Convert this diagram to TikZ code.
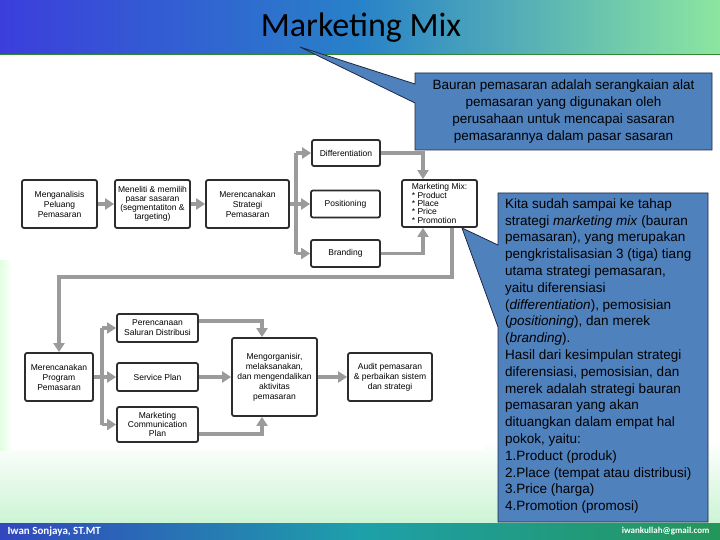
\documentclass[tikz,border=0pt]{standalone}
\usepackage{fontspec}
\setmainfont{Liberation Sans}
\newfontfamily\slidefont{Carlito}
\usetikzlibrary{arrows.meta,positioning,calc,shadows}
\definecolor{calloutblue}{RGB}{79,129,189}
\definecolor{calloutedge}{RGB}{30,40,70}
\definecolor{arrowgray}{RGB}{155,155,155}
\definecolor{boxborder}{RGB}{45,45,45}
\definecolor{bandblue}{RGB}{60,62,220}
\definecolor{bandmid}{RGB}{40,130,200}
\definecolor{bandgreen}{RGB}{140,230,160}
\definecolor{footblue}{RGB}{50,70,190}
\definecolor{footteal}{RGB}{30,160,170}
\definecolor{footgreen}{RGB}{35,150,90}

\tikzset{
  stagebox/.style={draw=boxborder, line width=1.8pt, rounded corners=2pt, fill=white,
    align=center, inner sep=1pt, font=\fontsize{8.5}{10}\selectfont,
    drop shadow={opacity=0.3, shadow xshift=0.8pt, shadow yshift=-0.8pt}},
  flow/.style={draw=arrowgray, line width=3.5pt, -{Triangle[width=11pt,length=9pt]}},
  flowline/.style={draw=arrowgray, line width=3.5pt},
  notetext/.style={text=black, inner sep=0pt, font=\fontsize{13.5}{16.8}\selectfont},
}

\begin{document}
\begin{tikzpicture}[x=1pt,y=-1pt]
    \useasboundingbox (0,0) rectangle (720,540);

    % Slide background
    \fill[white] (0,0) rectangle (720,540);
    \shade[top color=white, bottom color=bandgreen!45] (0,440) rectangle (720,523);
    \shade[left color=green!12, right color=white] (0,260) rectangle (12,450);
    \fill[white] (12,120) rectangle (484,450);

    % Header band and title
    \shade[left color=bandblue, right color=bandgreen, middle color=bandmid] (0,0) rectangle (720,55);
    \draw[black!45!green!60!gray, line width=1pt] (0,55) -- (720,55);
    \node (title) at (361,28) {\slidefont\fontsize{34}{38}\selectfont Marketing Mix};

    % Footer band
    \shade[left color=footblue, right color=footgreen, middle color=footteal] (0,523) rectangle (720,540);
    \node[anchor=west, text=white, font=\slidefont\bfseries\fontsize{11}{12}\selectfont] (author) at (4,531.5) {Iwan Sonjaya, ST.MT};
    \node[anchor=east, text=white, font=\slidefont\bfseries\fontsize{9}{10}\selectfont] (mail) at (713,531.5) {iwankullah@gmail.com};

    % Top row
    \node[stagebox, minimum width=75, minimum height=48] (analisis) at (59.5,204) {Menganalisis\\Peluang\\Pemasaran};
    \node[stagebox, minimum width=75, minimum height=48, font=\fontsize{8.5}{9.2}\selectfont] (segmen) at (152.5,204) {Meneliti \& memilih\\pasar sasaran\\(segmentatiton \&\\targeting)};
    \node[stagebox, minimum width=83, minimum height=48] (strategi) at (247.5,204) {Merencanakan\\Strategi\\Pemasaran};
    \node[stagebox, minimum width=68, minimum height=26] (diff) at (346,153) {Differentiation};
    \node[stagebox, minimum width=69, minimum height=27] (posi) at (345.5,204) {Positioning};
    \node[stagebox, minimum width=69, minimum height=27] (brand) at (345.5,253.5) {Branding};
    \node[stagebox, minimum width=75, minimum height=47, align=left, font=\fontsize{8.5}{8.3}\selectfont] (mix) at (439.5,203.5) {Marketing Mix:\\* Product\\* Place\\* Price\\* Promotion};

    % Bottom row
    \node[stagebox, minimum width=68, minimum height=48] (program) at (59,377) {Merencanakan\\Program\\Pemasaran};
    \node[stagebox, minimum width=81, minimum height=28] (saluran) at (157.5,328) {Perencanaan\\Saluran Distribusi};
    \node[stagebox, minimum width=81, minimum height=28] (service) at (157.5,377) {Service Plan};
    \node[stagebox, minimum width=81, minimum height=35, font=\fontsize{8.5}{9.3}\selectfont] (komunikasi) at (157.5,424.5) {Marketing\\Communication\\Plan};
    \node[stagebox, minimum width=85, minimum height=78] (organisir) at (274.5,377) {Mengorganisir,\\melaksanakan,\\dan mengendalikan\\aktivitas\\pemasaran};
    \node[stagebox, minimum width=84, minimum height=48] (audit) at (390,377) {Audit pemasaran\\\& perbaikan sistem\\dan strategi};

    % Connectors, top row
    \draw[flow] (analisis) -- (segmen);
    \draw[flow] (segmen) -- (strategi);
    \coordinate (split1) at ($(strategi.east)+(6,0)$);
    \draw[flowline] (strategi.east) -- (split1);
    \draw[flowline] (split1 |- diff.west) -- (split1 |- brand.west);
    \draw[flow] (split1 |- diff.west) -- (diff.west);
    \draw[flow] (split1) -- (posi.west);
    \draw[flow] (split1 |- brand.west) -- (brand.west);
    \draw[flow] (diff.east) -| ([xshift=-16.5pt]mix.north);
    \draw[flow] (brand.east) -| ([xshift=-16.5pt]mix.south);

    % Loop back to the bottom row
    \draw[flow] ([xshift=12.5pt]mix.south) |- ($(program.north)+(0,-75)$) -- (program.north);

    % Connectors, bottom row
    \coordinate (split2) at ($(program.east)+(8,0)$);
    \draw[flowline] (program.east) -- (split2);
    \draw[flowline] (split2 |- saluran.west) -- (split2 |- komunikasi.west);
    \draw[flow] (split2 |- saluran.west) -- (saluran.west);
    \draw[flow] (split2) -- (service.west);
    \draw[flow] (split2 |- komunikasi.west) -- (komunikasi.west);
    \draw[flow] ([yshift=7pt]saluran.east) -| ([xshift=-12.5pt]organisir.north);
    \draw[flow] ([yshift=-9.5pt]komunikasi.east) -| ([xshift=-12.5pt]organisir.south);
    \draw[flow] (service) -- (organisir);
    \draw[flow] (organisir) -- (audit);

    % Callout on the title
    \filldraw[fill=calloutblue, draw=calloutedge, line width=0.8pt]
      (415,73) -- (712,73) -- (712,150) -- (415,150) -- (415,103) -- (300,47) -- (415,84) -- cycle;
    \node[notetext, align=center, font=\fontsize{13.5}{17}\selectfont] (note1) at (563.5,111.5)
      {Bauran pemasaran adalah serangkaian alat\\pemasaran yang digunakan oleh\\perusahaan untuk mencapai sasaran\\pemasarannya dalam pasar sasaran};

    % Callout on the marketing mix box
    \filldraw[fill=calloutblue, draw=calloutedge, line width=0.8pt]
      (498,193) -- (708,193) -- (708,522) -- (498,522) -- (498,327) -- (462,228) -- (498,245) -- cycle;
    \node[notetext, align=left, anchor=west] (note2) at (505,356)
      {Kita sudah sampai ke tahap\\strategi \textit{marketing mix} (bauran\\pemasaran), yang merupakan\\pengkristalisasian 3 (tiga) tiang\\utama strategi pemasaran,\\yaitu diferensiasi\\(\textit{differentiation}), pemosisian\\(\textit{positioning}), dan merek\\(\textit{branding}).\\Hasil dari kesimpulan strategi\\diferensiasi, pemosisian, dan\\merek adalah strategi bauran\\pemasaran yang akan\\dituangkan dalam empat hal\\pokok, yaitu:\\1.Product (produk)\\2.Place (tempat atau distribusi)\\3.Price (harga)\\4.Promotion (promosi)};
\end{tikzpicture}
\end{document}
